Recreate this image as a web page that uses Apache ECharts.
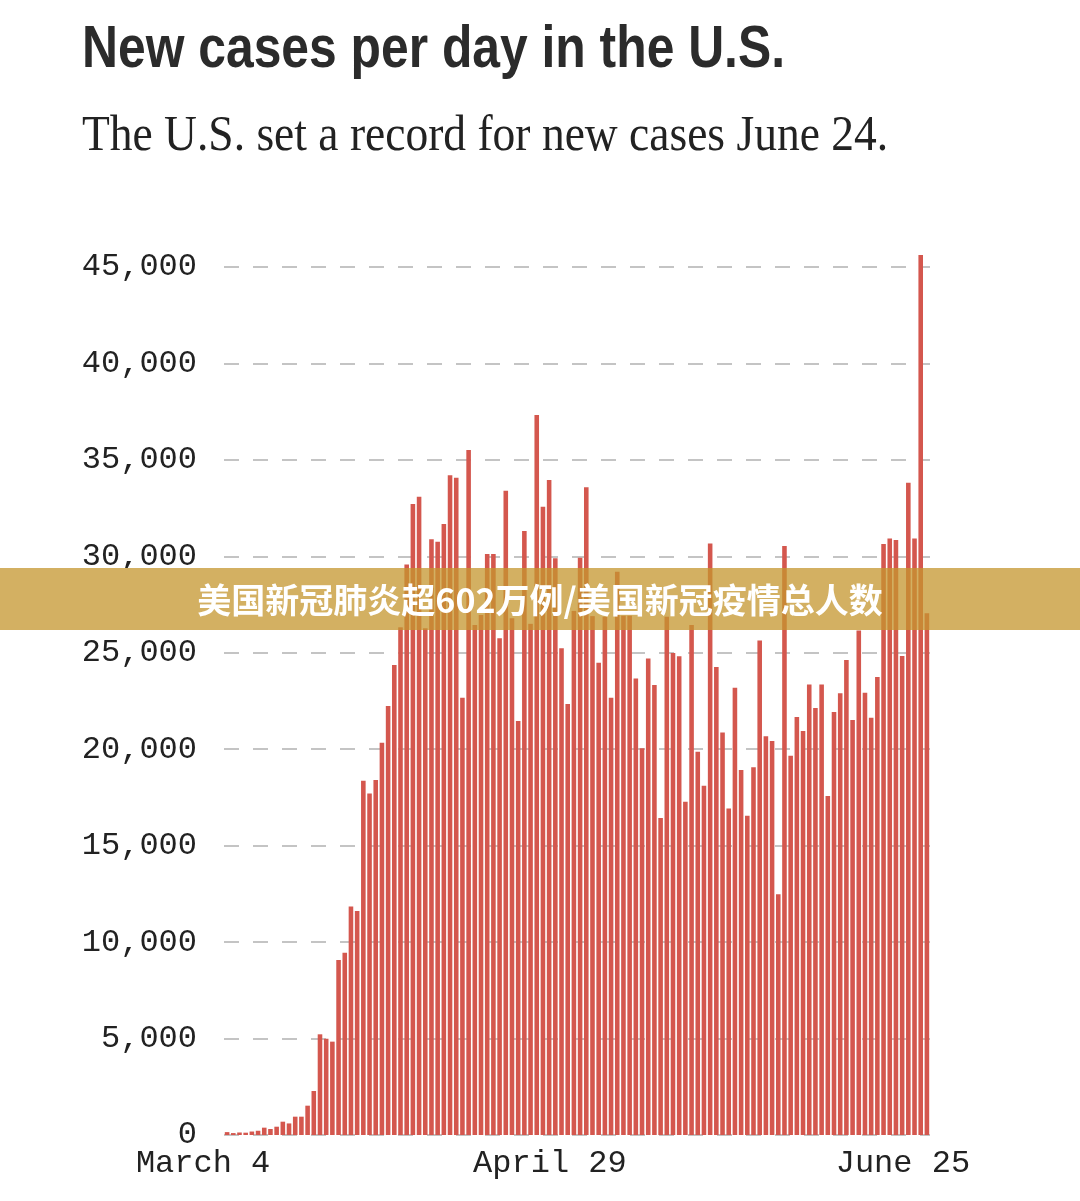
<!DOCTYPE html>
<html>
<head>
<meta charset="utf-8">
<title>New cases per day in the U.S.</title>
<script src="https://cdn.jsdelivr.net/npm/echarts@6/dist/echarts.min.js"></script>
<style>
	html, body { margin: 0; padding: 0; background: #fff; }
	#cases-chart { width: 1080px; height: 1201px; }
</style>
</head>
<body>
<div id="cases-chart"></div>
<script>
// daily new cases, March 4 -> June 25
var dailyCases = [
	150, 100, 130, 120, 180, 220, 380, 310, 430, 690,
	600, 950, 950, 1520, 2280, 5220, 4990, 4840, 9070, 9450,
	11840, 11610, 18370, 17710, 18400, 20340, 22240, 24370, 26320, 29580,
	32710, 33090, 26270, 30880, 30760, 31680, 34210, 34080, 22670, 35510,
	26440, 26960, 30120, 30120, 25750, 33400, 26790, 21460, 31310, 26500,
	37330, 32570, 33960, 29900, 25230, 22340, 27170, 29930, 33580, 26900,
	24480, 26870, 22670, 29200, 26920, 26920, 23670, 20050, 24700, 23330,
	16440, 26870, 24990, 24820, 17280, 26440, 19870, 18110, 30670, 24260,
	20870, 16930, 23190, 18920, 16550, 19060, 25640, 20670, 20420, 12480,
	30530, 19660, 21670, 20950, 23350, 22140, 23350, 17570, 21930, 22900,
	24620, 21510, 26150, 22930, 21630, 23740, 30640, 30930, 30850, 24830,
	33820, 30930, 45620, 27050
];
var monthNames = ['March', 'April', 'May', 'June'];
var monthDays = [31, 30, 31, 30];
var tickDays = ['March 4', 'April 29', 'June 25'];
var yTicks = [0, 5000, 10000, 15000, 20000, 25000, 30000, 35000, 40000, 45000];

// banner band across the chart (pixels)
var bannerTop = 568, bannerBottom = 630;
var barFill = 0.74;

function buildDays() {
	var days = [];
	var m = 0, d = 4;
	for (var i = 0; i < dailyCases.length; i++) {
		days.push(monthNames[m] + ' ' + d);
		d++;
		if (d > monthDays[m]) { m++; d = 1; }
	}
	return days;
}

function money(v) {
	return String(v).replace(/\B(?=(\d{3})+(?!\d))/g, ',');
}

var days = buildDays();
var chart = echarts.init(document.getElementById('cases-chart'));

var option = {
	animation: false,
	textStyle: {
		fontFamily: 'Liberation Mono'
	},
	grid: {
		left: 224,
		right: 150,
		top: 267,
		bottom: 66
	},
	xAxis: {
		type: 'category',
		data: days,
		axisLine: { show: false },
		axisTick: { show: false },
		axisLabel: {
			interval: function (idx, val) {
				return tickDays.indexOf(val) >= 0;
			},
			fontFamily: 'Liberation Mono',
			fontSize: 32,
			color: '#222',
			margin: 13,
			padding: [0, 48, 0, 0]
		}
	},
	yAxis: {
		type: 'value',
		min: yTicks[0],
		max: yTicks[yTicks.length - 1],
		interval: 5000,
		axisLine: { show: false },
		axisTick: { show: false },
		axisLabel: {
			formatter: function (v) { return money(v); },
			fontFamily: 'Liberation Mono',
			fontSize: 32,
			color: '#222',
			margin: 27
		},
		splitLine: {
			lineStyle: {
				color: '#c4c4c4',
				width: 2,
				type: [15, 14]
			}
		}
	},
	series: [
		{
			name: 'New cases',
			type: 'bar',
			data: dailyCases,
			clip: false,
			barCategoryGap: ((1 - barFill) * 100) + '%',
			itemStyle: {
				color: '#d4574e'
			}
		},
		{
			// the bars seen through the banner
			type: 'custom',
			z: 101,
			silent: true,
			clip: false,
			data: dailyCases.map(function (v, i) { return [i, v]; }),
			encode: { x: 0, y: 1 },
			renderItem: function (params, api) {
				var top = api.coord([api.value(0), api.value(1)]);
				var w = api.size([1, 0])[0] * barFill;
				var y0 = Math.max(top[1], bannerTop);
				if (y0 >= bannerBottom) return;
				return {
					type: 'rect',
					shape: { x: top[0] - w / 2, y: y0, width: w, height: bannerBottom - y0 },
					style: { fill: '#c98636' }
				};
			}
		}
	],
	graphic: [
		{
			type: 'text',
			x: 82,
			y: 50,
			scaleX: 0.83,
			style: {
				text: 'New cases per day in the U.S.',
				font: 'bold 60px "Liberation Sans"',
				fill: '#2b2b2b',
				textVerticalAlign: 'middle'
			}
		},
		{
			type: 'text',
			x: 82,
			y: 137,
			scaleX: 0.91,
			style: {
				text: 'The U.S. set a record for new cases June 24.',
				font: '50px "Liberation Serif"',
				fill: '#222',
				textVerticalAlign: 'middle'
			}
		},
		// overlay banner
		{
			type: 'rect',
			z: 100,
			silent: true,
			shape: { x: 0, y: bannerTop, width: 1080, height: bannerBottom - bannerTop },
			style: { fill: '#d3b062' }
		},
		{
			type: 'text',
			z: 102,
			x: 540,
			y: 600,
			style: {
				text: '美国新冠肺炎超602万例/美国新冠疫情总人数',
				font: 'bold 34px "Noto Sans CJK SC"',
				fill: '#fff',
				textAlign: 'center',
				textVerticalAlign: 'middle'
			}
		}
	]
};
chart.setOption(option);
</script>
</body>
</html>
